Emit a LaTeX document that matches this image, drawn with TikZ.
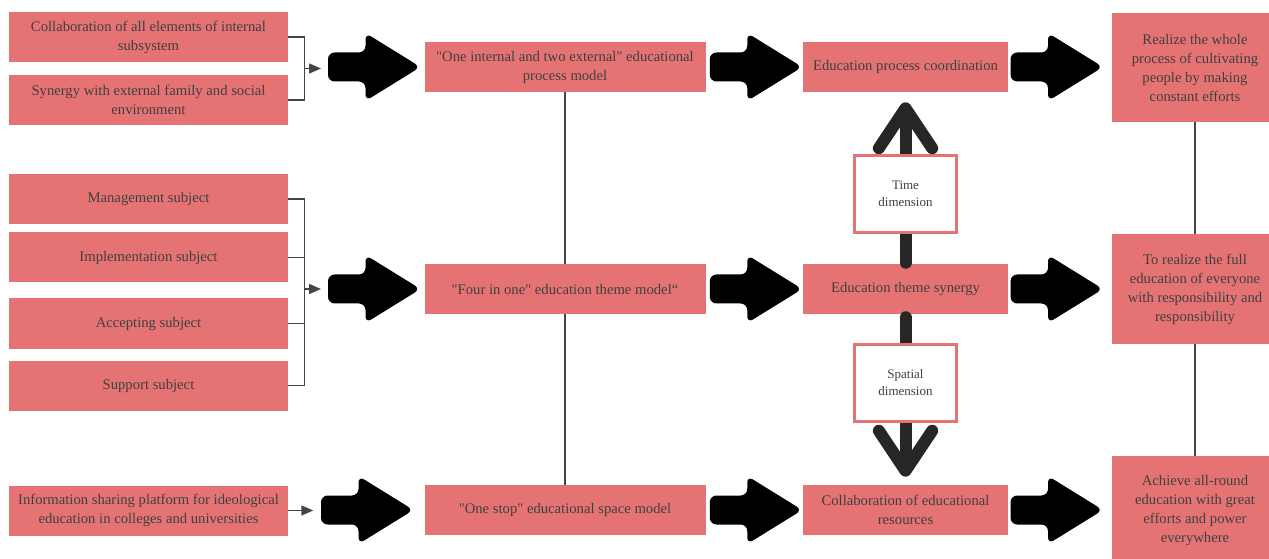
\documentclass[tikz,border=0pt]{standalone}
\usepackage{fontspec}
\setmainfont{Liberation Serif}[Ligatures=TeXOff]
\usetikzlibrary{arrows.meta,positioning,calc}
\definecolor{boxpink}{RGB}{229,115,115}
\definecolor{txtgray}{RGB}{64,64,64}
\definecolor{linegray}{RGB}{68,68,68}
% fat block arrow centred at a named coordinate
\newcommand{\fatarrow}[1]{%
  \fill[black, rounded corners=5pt, shift={(#1)}]
    (-44.5,-14.5) -- (-7,-14.5) -- (-7,-34) -- (48,0) -- (-7,34) -- (-7,14.5) -- (-44.5,14.5) -- cycle;}

\begin{document}
\begin{tikzpicture}[x=0.75pt, y=-0.75pt,
  box/.style={fill=boxpink, text=txtgray, align=center, inner sep=0pt, font=\fontsize{11}{14.25}\selectfont},
  lbox/.style={box, minimum width=209.25pt, minimum height=37.5pt},
  mbox/.style={box, minimum width=210.75pt, minimum height=37.5pt},
  cbox/.style={box, minimum width=153.75pt, minimum height=37.5pt},
  rbox/.style={box, minimum width=124.5pt, minimum height=81.75pt},
  dimbox/.style={draw=boxpink, line width=2.25pt, fill=white, text=txtgray, align=center, minimum width=76.5pt, minimum height=57.75pt, font=\fontsize{9.75}{12.75}\selectfont},
  brk/.style={draw=linegray, line width=1.1pt},
  brkarr/.style={brk, -{Triangle[length=9pt, width=7.5pt]}},
  vline/.style={draw=linegray, line width=1.1pt},
  dimarr/.style={draw=black!85, line width=9pt, line cap=round, -{Straight Barb[length=30pt, width=40pt, round]}}]
\useasboundingbox (0,0) rectangle (1269,559);
\fill[white] (0,0) rectangle (1269,559);

% left column
\node[lbox] (intsub) at (148.5,37) {Collaboration of all elements of internal\\subsystem};
\node[lbox] (extsyn) at (148.5,100) {Synergy with external family and social\\environment};
\node[lbox] (mgmt) at (148.5,199) {Management subject};
\node[lbox] (impl) at (148.5,257.5) {Implementation subject};
\node[lbox] (acc) at (148.5,323.5) {Accepting subject};
\node[lbox] (supp) at (148.5,385.5) {Support subject};
\node[lbox] (info) at (148.5,510.5) {Information sharing platform for ideological\\education in colleges and universities};

% models
\node[mbox] (procmod) at (565,67) {"One internal and two external" educational\\process model};
\node[mbox] (thememod) at (565,289) {"Four in one" education theme model“};
\node[mbox] (spacemod) at (565,510) {"One stop" educational space model};

% synergy
\node[cbox] (proccoord) at (905.5,67) {Education process coordination};
\node[cbox] (themesyn) at (905.5,289) {Education theme synergy};
\node[cbox] (rescoll) at (905.5,510) {Collaboration of educational\\resources};

% goals
\node[rbox] (goalproc) at (1195,67.5) {Realize the whole\\process of cultivating\\people by making\\constant efforts};
\node[rbox] (goalfull) at (1195,289) {To realize the full\\education of everyone\\with responsibility and\\responsibility};
\node[rbox] (goalall) at (1195,510.5) {Achieve all-round\\education with great\\efforts and power\\everywhere};

% brackets
\draw[brk] (intsub.east) -- ++(16,0) |- (extsyn.east);
\coordinate (brk1) at (304,68.5);
\draw[brkarr] (brk1) -- ++(17,0) coordinate (brk1tip);
\draw[brk] (mgmt.east) -- ++(16,0) |- (supp.east);
\draw[brk] (impl.east) -- ++(16,0);
\draw[brk] (acc.east) -- ++(16,0);
\coordinate (brk2) at (304,289);
\draw[brkarr] (brk2) -- ++(17,0) coordinate (brk2tip);
\draw[brkarr] (info.east) -- ++(25,0) coordinate (infotip);

% fat arrows
\coordinate (fa1) at (372.5,67);
\coordinate (fa2) at (372.5,289);
\coordinate (fa3) at (365.5,510);
\coordinate (fa4) at ($(procmod.east)!0.5!(proccoord.west)$);
\coordinate (fa5) at ($(thememod.east)!0.5!(themesyn.west)$);
\coordinate (fa6) at ($(spacemod.east)!0.5!(rescoll.west)$);
\coordinate (fa7) at (1055,67);
\coordinate (fa8) at (1055,289);
\coordinate (fa9) at (1055,510);
\foreach \a in {fa1,fa2,fa3,fa4,fa5,fa6,fa7,fa8,fa9} {\fatarrow{\a}}

% vertical links
\draw[vline] (procmod.south) -- (thememod.north);
\draw[vline] (thememod.south) -- (spacemod.north);
\draw[vline] (goalproc.south) -- (goalfull.north);
\draw[vline] (goalfull.south) -- (goalall.north);

% dimensions
\draw[dimarr, shorten <=0.75pt, shorten >=7.5pt] (themesyn.north) -- (proccoord.south);
\draw[dimarr, shorten <=2.25pt, shorten >=6pt] (themesyn.south) -- (rescoll.north);
\node[dimbox] (timedim) at (905.5,194) {Time\\dimension};
\node[dimbox] (spacedim) at (905.5,382.5) {Spatial\\dimension};
\end{tikzpicture}
\end{document}
